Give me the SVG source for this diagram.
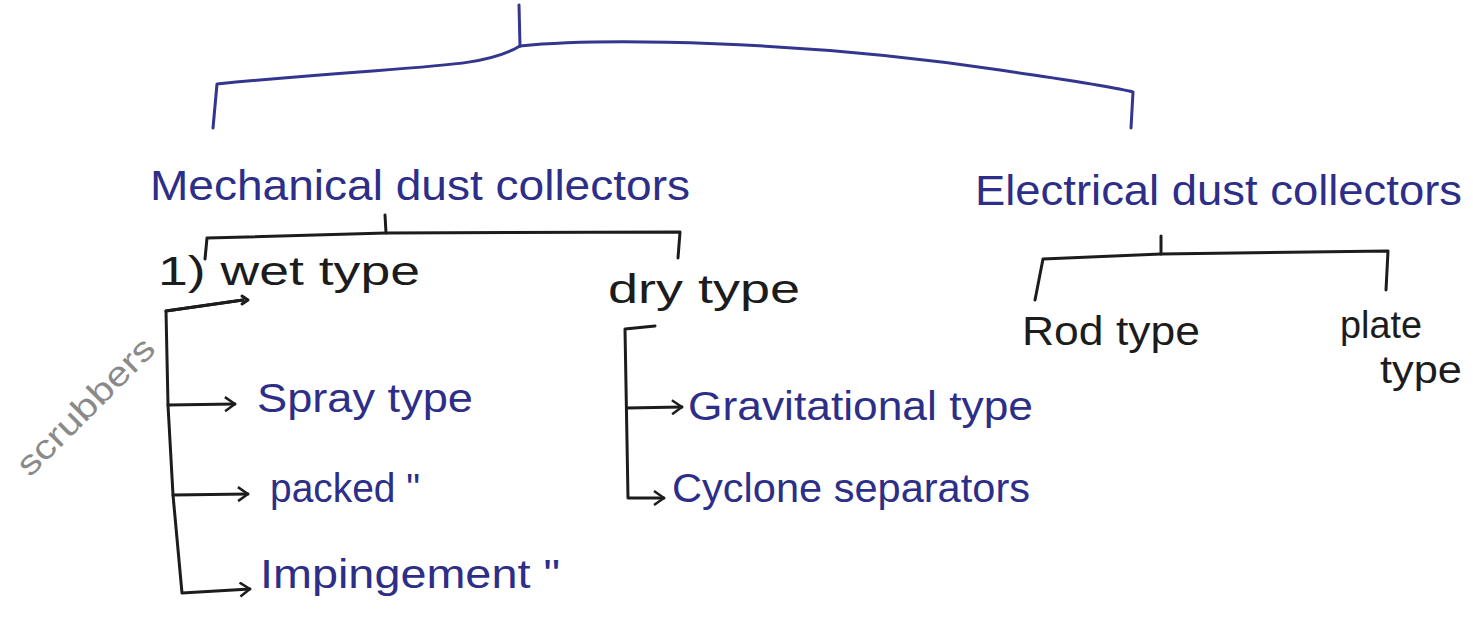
<svg xmlns="http://www.w3.org/2000/svg" width="1473" height="620" viewBox="0 0 1473 620">
<style>
  .blue { fill: #2d2e88; font-family: "Liberation Sans", "DejaVu Sans", sans-serif; }
  .black { fill: #1c1c1c; font-family: "Liberation Sans", "DejaVu Sans", sans-serif; }
  .gray { fill: #8a8a8a; font-family: "Liberation Sans", "DejaVu Sans", sans-serif; }
  .lb { fill: none; stroke: #34358f; stroke-width: 3; stroke-linecap: round; stroke-linejoin: round; }
  .lk { fill: none; stroke: #1c1c1c; stroke-width: 3; stroke-linecap: round; stroke-linejoin: round; }
</style>
<defs>
  <marker id="chev" viewBox="0 0 12 16" refX="11" refY="8" markerWidth="12" markerHeight="16" markerUnits="userSpaceOnUse" orient="auto">
    <path d="M1,1 L11,8 L1,15" fill="none" stroke="#1c1c1c" stroke-width="2.5"/>
  </marker>
</defs>
<rect width="1473" height="620" fill="#ffffff"/>
<g id="connectors">
  <path class="lb" d="M519,5 L520,46"/>
  <path class="lb" d="M520,46 C480,70 420,64 217,84 L213,128"/>
  <path class="lb" d="M520,46 C600,38 800,40 1000,70 C1080,82 1110,86 1133,92 L1131,128"/>
  <path class="lk" d="M385,215 L386,233"/>
  <path class="lk" d="M205,259 L207,238 L386,233 L680,232 L678,258"/>
  <path class="lk" d="M1161,236 L1161,254"/>
  <path class="lk" d="M1035,300 L1043,259 L1161,254 L1388,251 L1386,290"/>
  <path class="lk" d="M243,300 L166,311 L168,405 L173,495 L182,593 L250,589" marker-end="url(#chev)"/>
  <path class="lk" d="M243,300 L166,311"/>
  <path class="lk" d="M168,405 L235,404" marker-end="url(#chev)"/>
  <path class="lk" d="M173,495 L248,494" marker-end="url(#chev)"/>
  <path class="lk" d="M242,296 L248,300 L242,304"/>
  <path class="lk" d="M655,326 L625,329 L628,498 L664,498" marker-end="url(#chev)"/>
  <path class="lk" d="M627,408 L682,407" marker-end="url(#chev)"/>
</g>
<g id="node-mechanical"><text class="blue" x="150" y="200" font-size="42" textLength="540" lengthAdjust="spacingAndGlyphs">Mechanical dust collectors</text></g>
<g id="node-electrical"><text class="blue" x="975" y="205" font-size="42" textLength="487" lengthAdjust="spacingAndGlyphs">Electrical dust collectors</text></g>
<g id="node-wet"><text class="black" x="158" y="285" font-size="40" textLength="262" lengthAdjust="spacingAndGlyphs">1) wet type</text></g>
<g id="node-dry"><text class="black" x="608" y="303" font-size="40" textLength="192" lengthAdjust="spacingAndGlyphs">dry type</text></g>
<g id="node-rod"><text class="black" x="1022" y="345" font-size="40" textLength="178" lengthAdjust="spacingAndGlyphs">Rod type</text></g>
<g id="node-plate"><text class="black" x="1340" y="338" font-size="38" textLength="82" lengthAdjust="spacingAndGlyphs">plate</text><text class="black" x="1380" y="383" font-size="38" textLength="82" lengthAdjust="spacingAndGlyphs">type</text></g>
<g id="node-spray"><text class="blue" x="257" y="412" font-size="40" textLength="216" lengthAdjust="spacingAndGlyphs">Spray type</text></g>
<g id="node-packed"><text class="blue" x="270" y="502" font-size="40" textLength="150" lengthAdjust="spacingAndGlyphs">packed "</text></g>
<g id="node-impingement"><text class="blue" x="260" y="588" font-size="40" textLength="300" lengthAdjust="spacingAndGlyphs">Impingement "</text></g>
<g id="node-gravitational"><text class="blue" x="688" y="420" font-size="40" textLength="345" lengthAdjust="spacingAndGlyphs">Gravitational type</text></g>
<g id="node-cyclone"><text class="blue" x="672" y="502" font-size="40" textLength="358" lengthAdjust="spacingAndGlyphs">Cyclone separators</text></g>
<g id="node-scrubbers"><text class="gray" x="0" y="0" font-size="34" textLength="180" lengthAdjust="spacingAndGlyphs" transform="translate(30,478) rotate(-45)">scrubbers</text></g>
</svg>
